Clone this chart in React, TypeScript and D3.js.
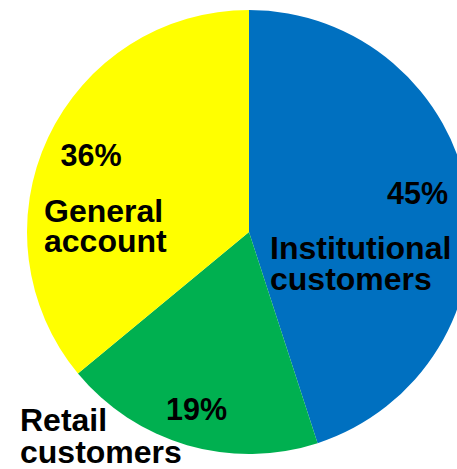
import React from 'react';
import * as d3 from 'd3';

// Share of assets by client type (%), clockwise from 12 o'clock
const categories = ['Institutional customers', 'Retail customers', 'General account'];
const shares = [45, 19, 36];
const percentLabels = ['45%', '19%', '36%'];
const colors = ['#0070C0', '#00B050', '#FFFF00'];

// Label layout (absolute page coordinates)
const nameLines = [['Institutional', 'customers'], ['Retail', 'customers'], ['General', 'account']];
const nameLayout = [
  { x: 270, y: 259, dy: 31 },
  { x: 20, y: 431, dy: 32 },
  { x: 44, y: 222, dy: 30 },
];
const pctLayout = [
  { x: 387, y: 204 },
  { x: 166, y: 420 },
  { x: 60.5, y: 166 },
];

const W = 457;
const H = 469;
const cx = 249;
const cy = 232;
const R = 222;

const App: React.FC = () => {
  const pie = d3.pie<number>().sort(null).value(d => d);
  const arcs = pie(shares);
  const arc = d3.arc<d3.PieArcDatum<number>>().innerRadius(0).outerRadius(R);
  const font = '"Liberation Sans", Arial, Helvetica, sans-serif';

  return (
    <svg
      width={W}
      height={H}
      style={{ position: 'absolute', left: 0, top: 0, background: '#fff' }}
    >
      <g transform={`translate(${cx},${cy})`}>
        {arcs.map((a, i) => (
          <path key={categories[i]} d={arc(a) || ''} fill={colors[i]} />
        ))}
      </g>
      <g fontFamily={font} fontWeight="bold" fill="#000">
        {percentLabels.map((p, i) => (
          <text key={p} x={pctLayout[i].x} y={pctLayout[i].y} fontSize={30.5}>
            {p}
          </text>
        ))}
        {nameLines.map((lines, i) => (
          <text key={categories[i]} x={nameLayout[i].x} y={nameLayout[i].y} fontSize={32}>
            {lines.map((l, j) => (
              <tspan key={l + j} x={nameLayout[i].x} dy={j === 0 ? 0 : nameLayout[i].dy}>
                {l}
              </tspan>
            ))}
          </text>
        ))}
      </g>
    </svg>
  );
};

export default App;
